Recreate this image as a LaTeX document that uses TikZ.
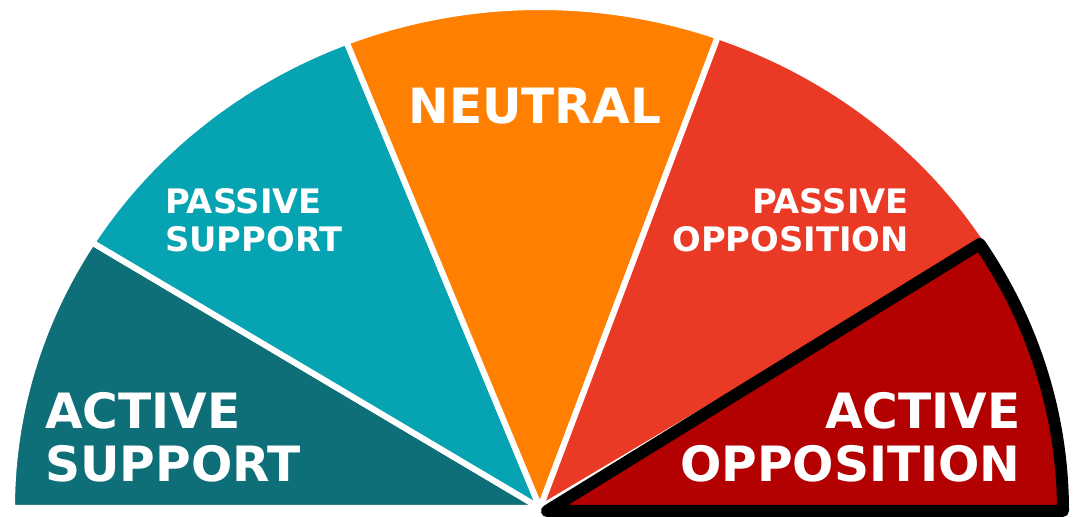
\documentclass[tikz,border=0pt]{standalone}
\usepackage{fontspec}
\setmainfont{DejaVu Sans}
\usepackage{tikz}
\usetikzlibrary{positioning}

\definecolor{actsup}{RGB}{14,111,120}
\definecolor{passup}{RGB}{6,163,178}
\definecolor{neutral}{RGB}{255,127,0}
\definecolor{pasopp}{RGB}{234,57,36}
\definecolor{actopp}{RGB}{179,0,0}

\tikzset{
  slice/.style={draw=white, line width=0.15cm, line join=round},
  bigword/.style={text=white, inner sep=0pt, font={\fontsize{34.6}{38}\selectfont\bfseries}},
  smallword/.style={text=white, inner sep=0pt, font={\fontsize{24}{27.5}\selectfont\bfseries}}
}

\begin{document}
\begin{tikzpicture}[x=0.025cm,y=0.025cm]
\useasboundingbox (0,0) rectangle (1079,517);
\coordinate (O) at (540,9);
\coordinate (Ored) at (547,6);

	% the five slices of the fan
	\filldraw[slice, fill=actsup] (O) -- ++(148:528 and 501) arc[start angle=148, end angle=180, x radius=528, y radius=501] -- cycle;
	\filldraw[slice, fill=passup] (O) -- ++(111.5:528 and 501) arc[start angle=111.5, end angle=148, x radius=528, y radius=501] -- cycle;
	\filldraw[slice, fill=neutral] (O) -- ++(70.3:528 and 501) arc[start angle=70.3, end angle=111.5, x radius=528, y radius=501] -- cycle;
	\filldraw[slice, fill=pasopp] (O) -- ++(32:528 and 501) arc[start angle=32, end angle=70.3, x radius=528, y radius=501] -- cycle;
	%\filldraw[slice, fill=actopp] (O) -- ++(0:528 and 501) arc[start angle=0, end angle=32, x radius=528, y radius=501] -- cycle;
	\filldraw[fill=actopp, draw=black, line width=0.3cm, line join=round] (Ored) -- ++(0:516 and 490) arc[start angle=0, end angle=33, x radius=516, y radius=490] -- cycle;

	% texts
	\node[bigword, anchor=north west, align=left] (actsuptext) at (45,125) {ACTIVE\\SUPPORT};
	\node[smallword, anchor=north west, align=left] (passuptext) at (165,329) {PASSIVE\\SUPPORT};
	\node[bigword, anchor=north west] (neutraltext) at (408,429) {NEUTRAL};
	\node[smallword, anchor=north east, align=right] (pasopptext) at (909,329) {PASSIVE\\OPPOSITION};
	\node[bigword, anchor=north east, align=right] (actopptext) at (1021,125) {ACTIVE\\OPPOSITION};
\end{tikzpicture}
\end{document}
